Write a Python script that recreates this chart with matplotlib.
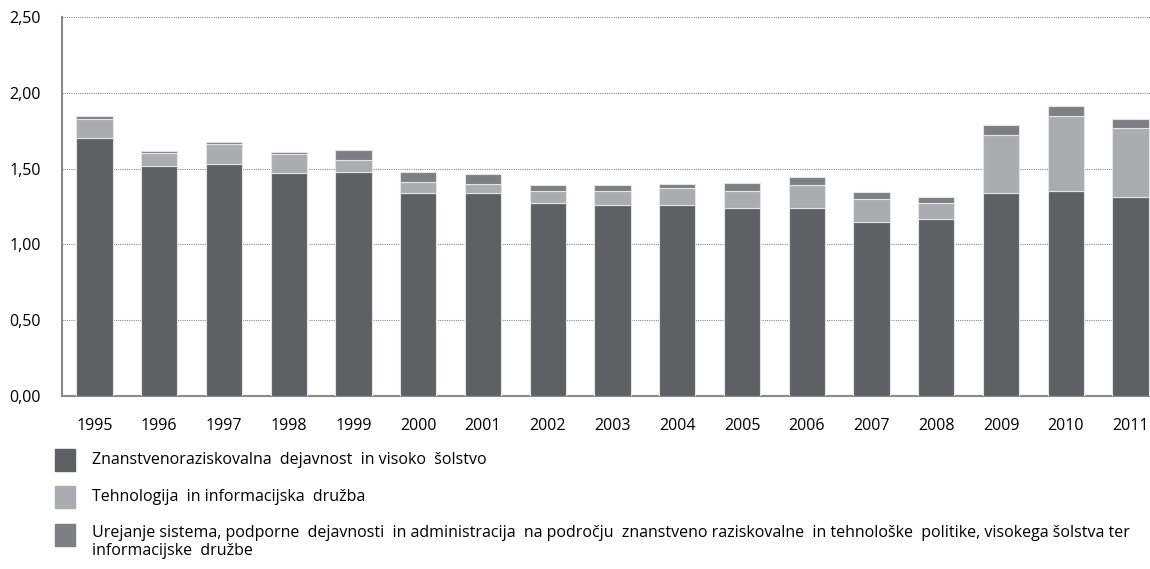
import numpy as np
import matplotlib.pyplot as plt
from matplotlib.patches import Rectangle

plt.rcParams['font.family'] = ['Open Sans', 'DejaVu Sans']

###################### Data ######################
years = ["1995", "1996", "1997", "1998", "1999", "2000", "2001", "2002", "2003",
         "2004", "2005", "2006", "2007", "2008", "2009", "2010", "2011"]
raziskave = [1.70, 1.52, 1.53, 1.47, 1.48, 1.34, 1.34, 1.27, 1.26,
             1.26, 1.24, 1.24, 1.15, 1.17, 1.34, 1.35, 1.31]
tehnologija = [0.125, 0.085, 0.13, 0.125, 0.075, 0.07, 0.06, 0.085, 0.095,
               0.11, 0.11, 0.15, 0.15, 0.10, 0.38, 0.50, 0.46]
urejanje = [0.02, 0.01, 0.015, 0.015, 0.07, 0.07, 0.065, 0.04, 0.04,
            0.03, 0.055, 0.055, 0.045, 0.045, 0.065, 0.065, 0.055]
labels = ["Znanstvenoraziskovalna  dejavnost  in visoko  šolstvo",
          "Tehnologija  in informacijska  družba",
          "Urejanje sistema, podporne  dejavnosti  in administracija  na področju  "
          "znanstveno raziskovalne  in tehnološke  politike, visokega šolstva ter\n"
          "informacijske  družbe"]
colors = ["#5f6064", "#abacaf", "#7e7f82"]
##################################################

W, H = 1150, 569
fig = plt.figure(figsize=(W / 100, H / 100), dpi=100)
ax = fig.add_axes([62 / W, 1 - 396 / H, 1101 / W, 379 / H])

x = np.arange(len(years))
bottom = np.zeros(len(years))
for vals, c in zip([raziskave, tehnologija, urejanje], colors):
    ax.bar(x, vals, 0.56, bottom=bottom, color=c, edgecolor="#e4e4e4",
           linewidth=0.8, zorder=3)
    bottom += np.array(vals)

yt = np.arange(0, 2.51, 0.5)
ax.set_xlim(-0.5, len(years) - 0.5)
ax.set_ylim(0, 2.5)
ax.set_yticks(yt)
ax.set_yticklabels([f"{v:.2f}".replace(".", ",") for v in yt], fontsize=11.5)
ax.set_xticks(x)
ax.set_xticklabels(years, fontsize=11.5)
ax.tick_params(axis="both", length=0)
ax.tick_params(axis="x", pad=16)
ax.tick_params(axis="y", pad=15)
for v in yt[1:]:
    ax.axhline(v, color="#8a8a8a", linestyle=(0, (1, 1)), linewidth=0.8, zorder=1)
for s in ["top", "right"]:
    ax.spines[s].set_visible(False)
for s in ["left", "bottom"]:
    ax.spines[s].set_color("#8a8a8a")
    ax.spines[s].set_linewidth(1.5)

# Legend drawn by hand
rows = [460, 497, 535]
for yc, c, lab in zip(rows, colors, labels):
    fig.patches.append(Rectangle((55 / W, 1 - (yc + 11) / H), 20 / W, 22 / H,
                                 transform=fig.transFigure, color=c))
    if "\n" in lab:
        fig.text(92 / W, 1 - (yc - 10) / H, lab, fontsize=11.5, va="top",
                 linespacing=1.15)
    else:
        fig.text(92 / W, 1 - yc / H, lab, fontsize=11.5, va="center")

fig.savefig("out.png", dpi=100)
